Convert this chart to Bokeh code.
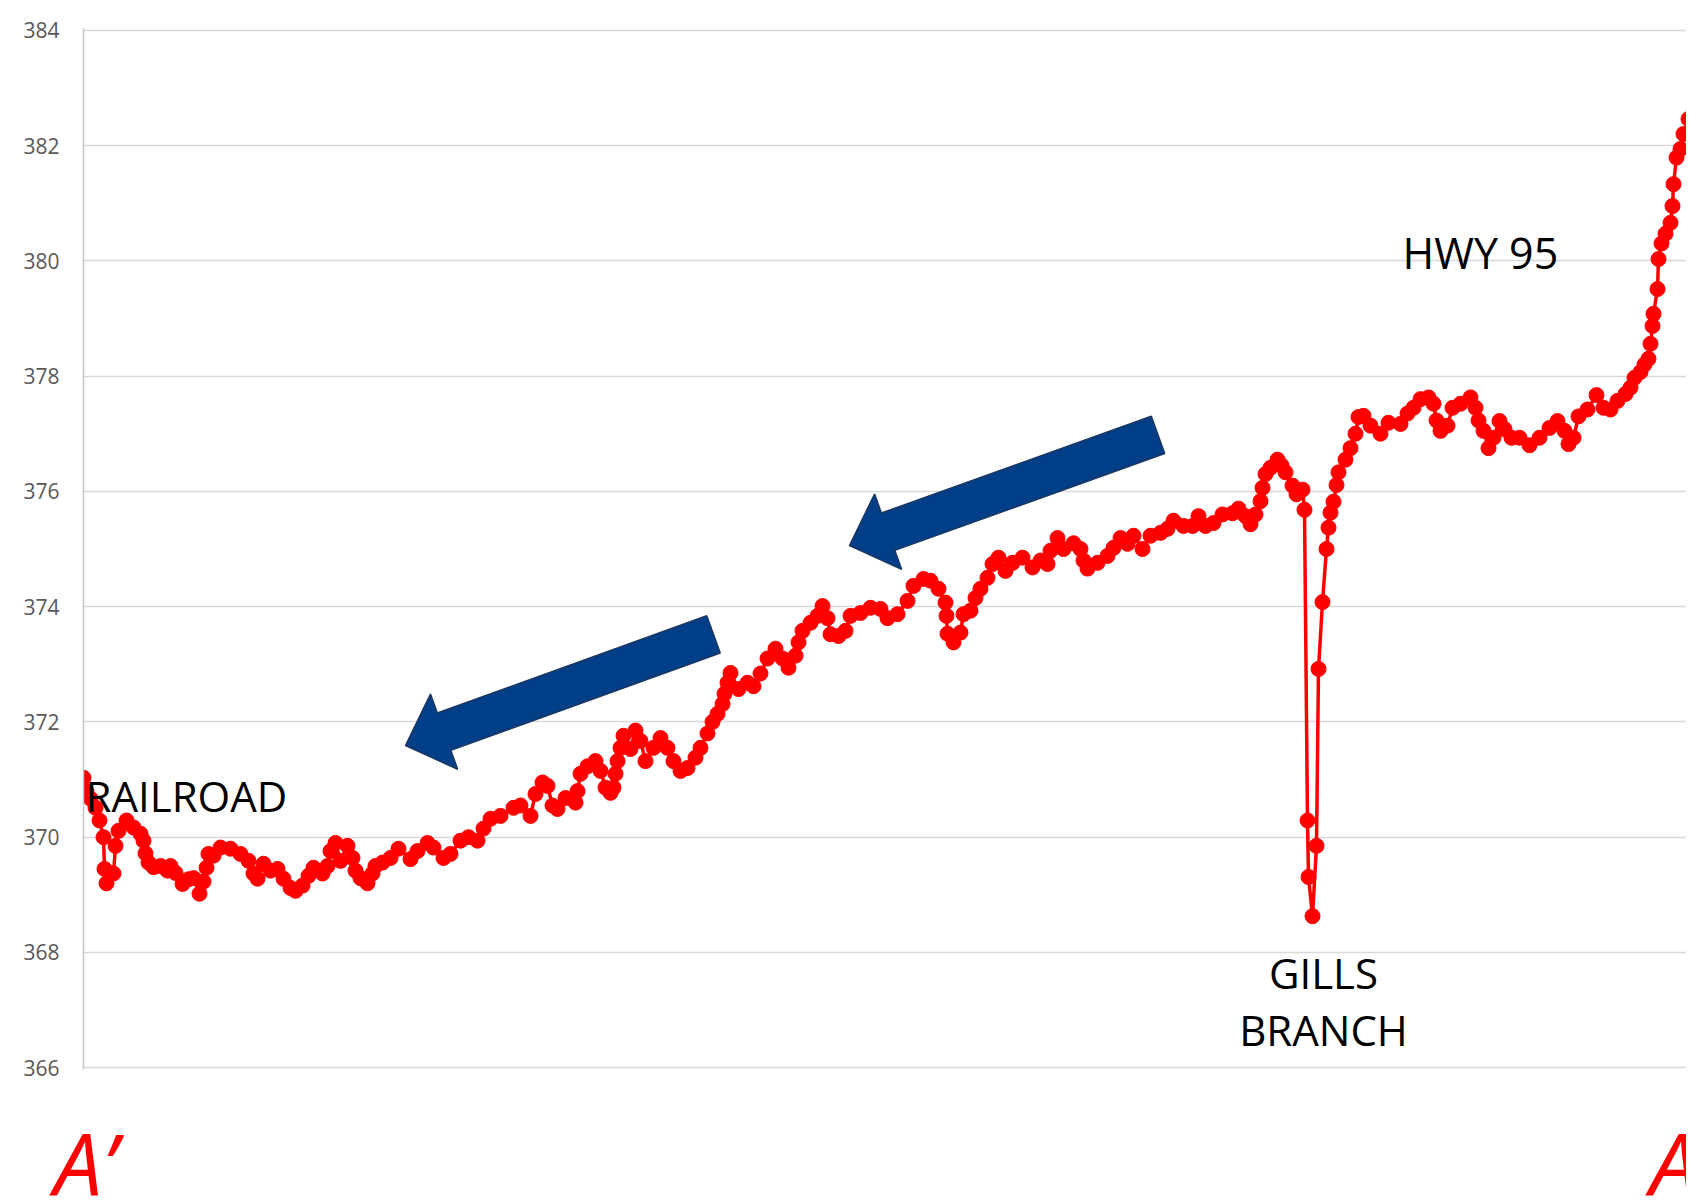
from bokeh.plotting import figure
from bokeh.models import Range1d, FixedTicker, Label, Div
from bokeh.layouts import column
from bokeh.embed import file_html
from bokeh.resources import INLINE

# ---- data: distance along profile A'-A, elevation ----
distance = [0, 3, 7, 12, 16, 20, 21, 23, 30, 32, 35, 43, 50, 57, 60, 62, 65, 70, 77, 84,
            87, 92, 99, 105, 110, 116, 120, 123, 125, 130, 137, 147, 157, 165, 170, 174, 180, 187, 194, 200,
            207, 212, 219, 225, 230, 239, 244, 247, 252, 257, 264, 269, 272, 277, 284, 289, 292, 299, 307, 315,
            327, 334, 344, 350, 360, 367, 377, 385, 394, 400, 407, 417, 430, 437, 447, 452, 459, 464, 469, 474,
            482, 492, 494, 497, 504, 512, 517, 522, 527, 530, 532, 534, 537, 540, 547, 552, 557, 562, 570, 577,
            584, 590, 597, 604, 612, 617, 624, 629, 634, 639, 641, 644, 647, 655, 664, 670, 677, 684, 692, 699,
            705, 712, 715, 719, 727, 734, 739, 744, 747, 755, 762, 767, 777, 787, 797, 804, 814, 824, 830, 840,
            847, 855, 862, 863, 864, 870, 877, 880, 887, 892, 897, 904, 909, 915, 922, 929, 939, 949, 957, 964,
            967, 974, 980, 990, 997, 1000, 1004, 1014, 1024, 1030, 1037, 1044, 1050, 1059, 1067, 1077, 1084, 1090, 1100, 1109,
            1115, 1122, 1130, 1139, 1149, 1155, 1162, 1167, 1172, 1177, 1179, 1182, 1187, 1194, 1198, 1202, 1209, 1213, 1219, 1221,
            1224, 1225, 1229, 1233, 1235, 1239, 1243, 1245, 1247, 1250, 1253, 1255, 1262, 1267, 1272, 1275, 1280, 1287, 1297, 1305,
            1317, 1324, 1330, 1337, 1345, 1350, 1353, 1357, 1364, 1369, 1377, 1387, 1392, 1395, 1400, 1405, 1410, 1416, 1421, 1428,
            1436, 1446, 1456, 1466, 1474, 1481, 1485, 1490, 1495, 1504, 1513, 1520, 1527, 1534, 1542, 1547, 1551, 1557, 1561, 1565,
            1567, 1569, 1570, 1574, 1575, 1578, 1582, 1587, 1589, 1590, 1593, 1597, 1600, 1605, 1611]

elevation = [371.03, 370.80, 370.67, 370.51, 370.29, 370.00, 369.45, 369.20, 369.37, 369.85,
             370.11, 370.29, 370.17, 370.06, 369.94, 369.72, 369.56, 369.48, 369.50, 369.42,
             369.50, 369.38, 369.19, 369.27, 369.29, 369.02, 369.23, 369.47, 369.71, 369.68,
             369.82, 369.80, 369.71, 369.59, 369.37, 369.28, 369.54, 369.42, 369.45, 369.28,
             369.12, 369.07, 369.16, 369.33, 369.47, 369.37, 369.50, 369.76, 369.90, 369.59,
             369.85, 369.64, 369.42, 369.29, 369.20, 369.37, 369.50, 369.56, 369.64, 369.80,
             369.62, 369.76, 369.90, 369.82, 369.64, 369.71, 369.94, 370.00, 369.94, 370.15,
             370.32, 370.37, 370.51, 370.55, 370.37, 370.75, 370.95, 370.89, 370.55, 370.49,
             370.68, 370.60, 370.80, 371.10, 371.23, 371.32, 371.15, 370.86, 370.77, 370.86,
             371.10, 371.32, 371.55, 371.76, 371.53, 371.85, 371.67, 371.32, 371.55, 371.72,
             371.55, 371.32, 371.15, 371.20, 371.38, 371.55, 371.80, 372.00, 372.14, 372.31,
             372.49, 372.68, 372.85, 372.57, 372.68, 372.62, 372.84, 373.10, 373.27, 373.10,
             372.94, 373.15, 373.38, 373.58, 373.72, 373.84, 374.01, 373.80, 373.52, 373.49,
             373.58, 373.84, 373.89, 373.98, 373.96, 373.80, 373.87, 374.10, 374.36, 374.48,
             374.45, 374.31, 374.07, 373.84, 373.53, 373.38, 373.55, 373.87, 373.93, 374.15,
             374.31, 374.50, 374.74, 374.85, 374.62, 374.76, 374.85, 374.68, 374.80, 374.74,
             374.97, 375.19, 375.00, 375.10, 375.00, 374.80, 374.66, 374.76, 374.88, 375.02,
             375.19, 375.09, 375.23, 375.00, 375.23, 375.28, 375.35, 375.49, 375.40, 375.40,
             375.57, 375.40, 375.45, 375.60, 375.62, 375.70, 375.57, 375.43, 375.60, 375.83,
             376.06, 376.30, 376.41, 376.55, 376.45, 376.33, 376.10, 375.95, 376.03, 375.68,
             370.29, 369.31, 368.63, 369.85, 372.92, 374.08, 375.00, 375.37, 375.63, 375.82,
             376.11, 376.33, 376.55, 376.75, 377.00, 377.29, 377.31, 377.14, 377.00, 377.19,
             377.17, 377.35, 377.45, 377.60, 377.63, 377.52, 377.23, 377.05, 377.14, 377.45,
             377.52, 377.63, 377.45, 377.23, 377.05, 376.75, 376.93, 377.22, 377.08, 376.93,
             376.93, 376.80, 376.93, 377.10, 377.22, 377.05, 376.82, 376.93, 377.30, 377.42,
             377.67, 377.45, 377.42, 377.57, 377.69, 377.80, 377.97, 378.07, 378.20, 378.30,
             378.56, 378.87, 379.08, 379.51, 380.03, 380.30, 380.47, 380.66, 380.95, 381.33,
             381.79, 381.94, 382.20, 382.46, 382.70]

y_ticks = [366, 368, 370, 372, 374, 376, 378, 380, 382, 384]

# annotation texts and anchor positions (distance, elevation)
labels_text = ["RAILROAD", "HWY 95", "GILLS", "BRANCH"]
labels_x = [2, 1319, 1240, 1240]
labels_y = [370.73, 380.15, 367.65, 366.66]
labels_align = ["left", "left", "center", "center"]
labels_size = ["42px", "43px", "42px", "42px"]

# section end markers (distance of left edge)
ends_text = ["A\u2019", "A"]
ends_x = [-29, 1567]

# flow arrows: tip and tail centre (distance, elevation)
arrow_tips = [(322, 371.59), (766, 375.06)]
arrow_tails = [(630, 373.52), (1074.5, 376.98)]

# ---- layout ----
W = 1686
BL, BT, BB, BR = 83, 28, 15, 0
FH = 1041
H_MAIN = BT + FH + BB
H_FOOT = 1200 - H_MAIN
X0, X1 = 0, W - BL - BR
Y0, Y1 = 365.97, 384.03
FW = W - BL - BR
PX_X = FW / (X1 - X0)
PX_Y = FH / (Y1 - Y0)

p = figure(width=W, height=H_MAIN, output_backend="svg", toolbar_location=None, title=None,
           x_range=Range1d(X0, X1), y_range=Range1d(Y0, Y1), x_axis_location=None,
           min_border_left=BL, min_border_right=BR, min_border_top=BT, min_border_bottom=BB)
p.outline_line_color = None
p.background_fill_color = "white"
p.border_fill_color = "white"

p.xgrid.visible = False
p.yaxis.ticker = FixedTicker(ticks=y_ticks)
p.ygrid.ticker = FixedTicker(ticks=y_ticks)
p.ygrid.grid_line_color = "#d9d9d9"
p.ygrid.grid_line_width = 1.5
p.yaxis.axis_line_color = "#c4c4c4"
p.yaxis.axis_line_width = 1.5
p.yaxis.major_tick_line_color = None
p.yaxis.minor_tick_line_color = None
p.yaxis.major_label_text_font = "Open Sans"
p.yaxis.major_label_text_font_size = "21px"
p.yaxis.major_label_text_color = "#595959"
p.yaxis.major_label_standoff = 18

p.line(distance, elevation, line_color="#FF0000", line_width=3.5)
p.scatter(distance, elevation, size=15, fill_color="#FF0000", line_color="#FF0000")


def arrow_polygon(tip, tail, half_w=19.8, head_len=41.0, head_half=40.0):
    tx, ty = tip[0] * PX_X, tip[1] * PX_Y
    bx, by = tail[0] * PX_X, tail[1] * PX_Y
    dx, dy = bx - tx, by - ty
    length = (dx * dx + dy * dy) ** 0.5
    ux, uy = dx / length, dy / length
    nx, ny = -uy, ux
    pts = [(0, 0), (head_len, -head_half), (head_len, -half_w), (length, -half_w),
           (length, half_w), (head_len, half_w), (head_len, head_half)]
    xs, ys = [], []
    for a, b in pts:
        px = tx + a * ux + b * nx
        py = ty + a * uy + b * ny
        xs.append(px / PX_X)
        ys.append(py / PX_Y)
    return xs, ys


for tip, tail in zip(arrow_tips, arrow_tails):
    xs, ys = arrow_polygon(tip, tail)
    p.patch(xs, ys, fill_color="#003F87", line_color="#1A3763", line_width=1.5)

for t, x, y, a, s in zip(labels_text, labels_x, labels_y, labels_align, labels_size):
    p.add_layout(Label(x=x, y=y, text=t, text_font="Open Sans", text_font_size=s,
                       text_color="black", text_align=a, text_baseline="alphabetic"))

# ---- footer strip with the section end letters ----
baseline_from_top = 1197 - H_MAIN
font_px = 86
line_h = 0.8
top = baseline_from_top - round(((line_h - 1.362) / 2 + 1.069) * font_px)
spans = "".join(
    f'<span style="position:absolute;left:{BL + x}px;top:{top}px;">{t}</span>'
    for t, x in zip(ends_text, ends_x))
foot = Div(text=(f'<div style="position:relative;width:{W}px;height:{H_FOOT}px;overflow:hidden;'
                 f"font-family:'Open Sans';font-style:italic;font-size:{font_px}px;line-height:{line_h};"
                 f'color:#FF0000;background:white;">{spans}</div>'),
           width=W, height=H_FOOT, margin=(0, 0, 0, 0))

layout = column(p, foot, spacing=0)
open("out.html", "w").write(file_html(layout, INLINE))
